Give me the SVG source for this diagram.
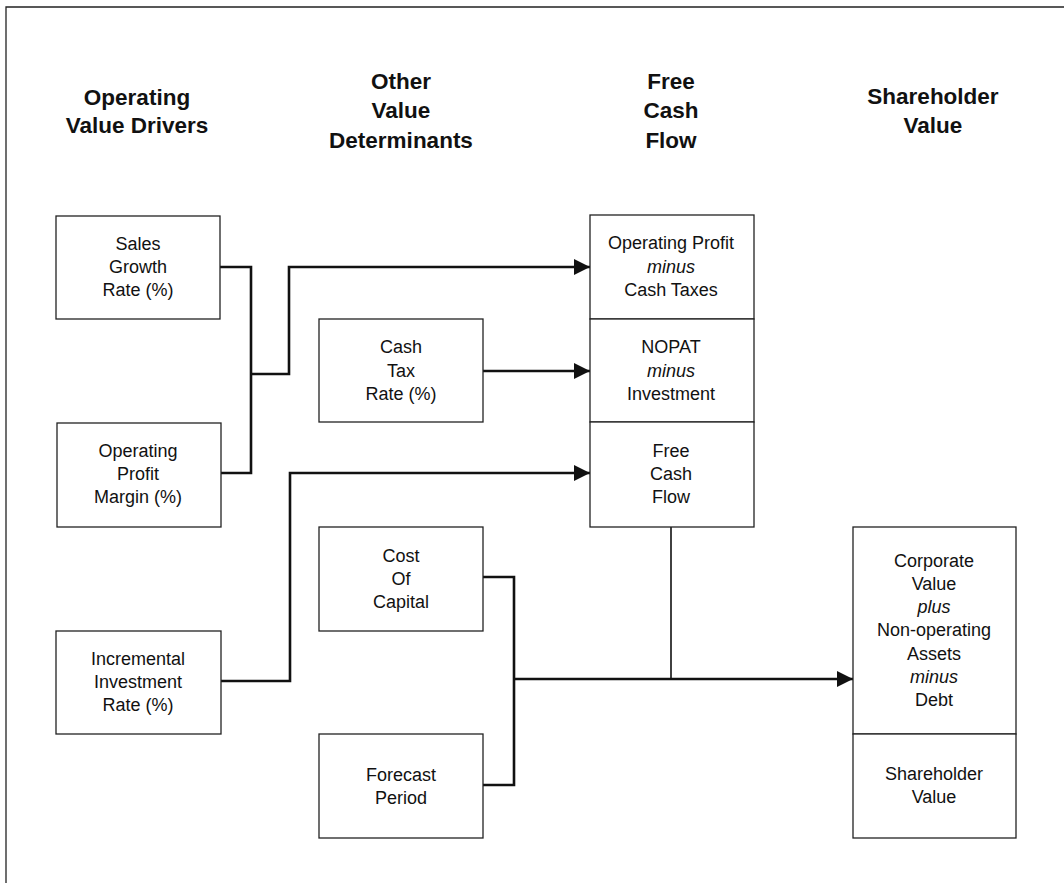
<svg xmlns="http://www.w3.org/2000/svg" width="1064" height="883" viewBox="0 0 1064 883">
<style>
.bg{fill:#fff}
.frame{stroke:#222;stroke-width:1.3;fill:none}
.box{fill:#fff;stroke:#222;stroke-width:1.3}
.hd{font-family:"Liberation Sans",Arial,sans-serif;font-weight:bold;font-size:22.5px;fill:#111;text-anchor:middle}
.t{font-family:"Liberation Sans",Arial,sans-serif;font-size:18px;fill:#111;text-anchor:middle}
.i{font-style:italic}
.c{stroke:#111;stroke-width:2.6;fill:none}
.c2{stroke:#111;stroke-width:1.6;fill:none}
</style>
<defs>
<marker id="arr" viewBox="0 0 16 16" refX="16" refY="8" markerWidth="16" markerHeight="16" markerUnits="userSpaceOnUse" orient="auto">
<path d="M0,0 L16,8 L0,16 z" fill="#111"/>
</marker>
</defs>
<rect class="bg" x="0" y="0" width="1064" height="883"/>
<path class="frame" d="M6,883 V7 H1064"/>

<g id="headers">
<text class="hd" x="137" y="105">Operating</text>
<text class="hd" x="137" y="133">Value Drivers</text>
<text class="hd" x="401" y="89">Other</text>
<text class="hd" x="401" y="118">Value</text>
<text class="hd" x="401" y="148">Determinants</text>
<text class="hd" x="671" y="89">Free</text>
<text class="hd" x="671" y="118">Cash</text>
<text class="hd" x="671" y="148">Flow</text>
<text class="hd" x="933" y="104">Shareholder</text>
<text class="hd" x="933" y="133">Value</text>
</g>

<g id="connectors">
<path class="c" d="M220,267 H251 V473 H221"/>
<path class="c" d="M251,374 H289 V267 H590" marker-end="url(#arr)"/>
<path class="c" d="M483,371 H590" marker-end="url(#arr)"/>
<path class="c" d="M221,681 H290 V473 H590" marker-end="url(#arr)"/>
<path class="c" d="M483,577 H514 V785 H483"/>
<path class="c" d="M514,679 H853" marker-end="url(#arr)"/>
<path class="c2" d="M671,527 V679"/>
</g>

<g id="sales-growth">
<rect class="box" x="56" y="216" width="164" height="103"/>
<text class="t" x="138" y="250">Sales</text>
<text class="t" x="138" y="273">Growth</text>
<text class="t" x="138" y="296">Rate (%)</text>
</g>

<g id="operating-profit-margin">
<rect class="box" x="57" y="423" width="164" height="104"/>
<text class="t" x="138" y="457">Operating</text>
<text class="t" x="138" y="480">Profit</text>
<text class="t" x="138" y="503">Margin (%)</text>
</g>

<g id="incremental-investment">
<rect class="box" x="56" y="631" width="165" height="103"/>
<text class="t" x="138" y="665">Incremental</text>
<text class="t" x="138" y="688">Investment</text>
<text class="t" x="138" y="711">Rate (%)</text>
</g>

<g id="cash-tax-rate">
<rect class="box" x="319" y="319" width="164" height="103"/>
<text class="t" x="401" y="353">Cash</text>
<text class="t" x="401" y="377">Tax</text>
<text class="t" x="401" y="400">Rate (%)</text>
</g>

<g id="cost-of-capital">
<rect class="box" x="319" y="527" width="164" height="104"/>
<text class="t" x="401" y="562">Cost</text>
<text class="t" x="401" y="585">Of</text>
<text class="t" x="401" y="608">Capital</text>
</g>

<g id="forecast-period">
<rect class="box" x="319" y="734" width="164" height="104"/>
<text class="t" x="401" y="781">Forecast</text>
<text class="t" x="401" y="804">Period</text>
</g>

<g id="fcf-operating-profit">
<rect class="box" x="590" y="215" width="164" height="104"/>
<text class="t" x="671" y="249">Operating Profit</text>
<text class="t i" x="671" y="273">minus</text>
<text class="t" x="671" y="296">Cash Taxes</text>
</g>

<g id="fcf-nopat">
<rect class="box" x="590" y="319" width="164" height="103"/>
<text class="t" x="671" y="353">NOPAT</text>
<text class="t i" x="671" y="377">minus</text>
<text class="t" x="671" y="400">Investment</text>
</g>

<g id="fcf-free-cash-flow">
<rect class="box" x="590" y="422" width="164" height="105"/>
<text class="t" x="671" y="457">Free</text>
<text class="t" x="671" y="480">Cash</text>
<text class="t" x="671" y="503">Flow</text>
</g>

<g id="corporate-value">
<rect class="box" x="853" y="527" width="163" height="207"/>
<text class="t" x="934" y="567">Corporate</text>
<text class="t" x="934" y="590">Value</text>
<text class="t i" x="934" y="613">plus</text>
<text class="t" x="934" y="636">Non-operating</text>
<text class="t" x="934" y="660">Assets</text>
<text class="t i" x="934" y="683">minus</text>
<text class="t" x="934" y="706">Debt</text>
</g>

<g id="shareholder-value">
<rect class="box" x="853" y="734" width="163" height="104"/>
<text class="t" x="934" y="780">Shareholder</text>
<text class="t" x="934" y="803">Value</text>
</g>
</svg>
